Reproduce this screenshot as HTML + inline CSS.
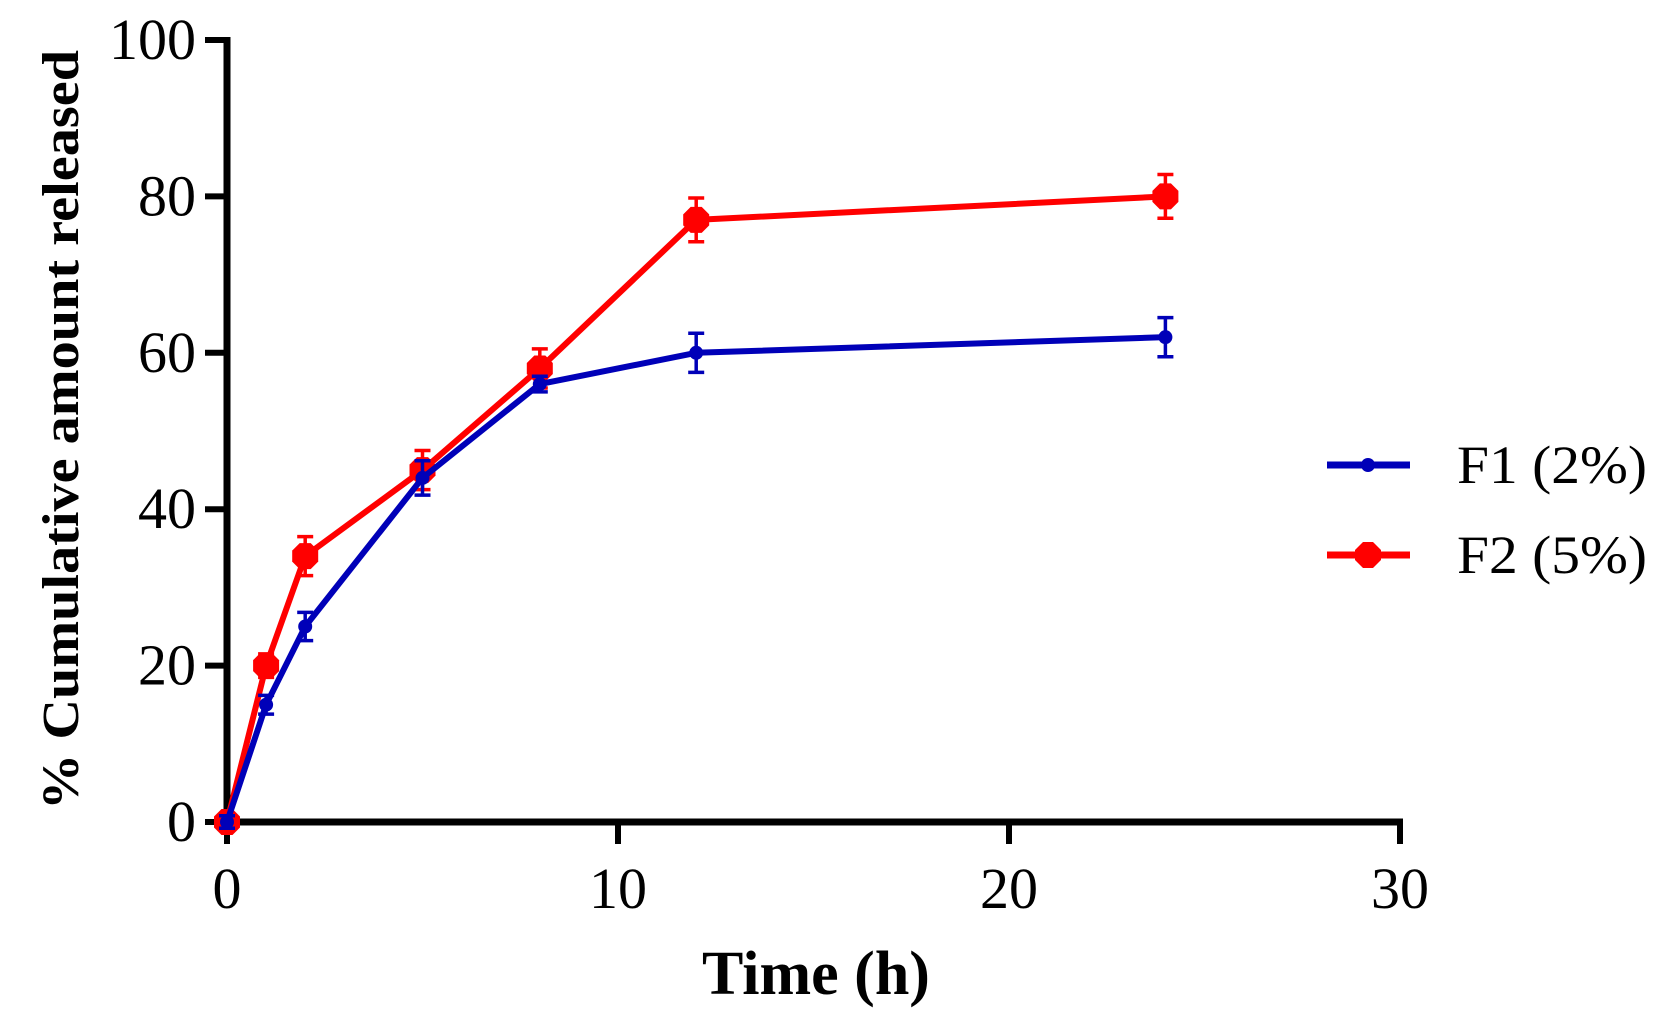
<!DOCTYPE html>
<html><head><meta charset="utf-8"><style>
html,body{margin:0;padding:0;background:#fff;}
svg{display:block;font-family:"Liberation Serif",serif;}
</style></head><body>
<svg id="chart" width="1663" height="1022" viewBox="0 0 1663 1022" xmlns="http://www.w3.org/2000/svg">
<g id="axes"></g>
<g id="series"></g>
<text x="816" y="994" font-size="62" font-weight="bold" text-anchor="middle">Time (h)</text>
<text transform="translate(78,430) rotate(-90)" font-size="52" font-weight="bold" text-anchor="middle" textLength="760" lengthAdjust="spacingAndGlyphs">% Cumulative amount released</text>
<g>
<line x1="1327" y1="465" x2="1410" y2="465" stroke="#0000b8" stroke-width="7"/>
<circle cx="1368" cy="465" r="7" fill="#0000b8"/>
<text x="1457" y="483" font-size="54" textLength="190" lengthAdjust="spacingAndGlyphs">F1 (2%)</text>
<line x1="1327" y1="555" x2="1410" y2="555" stroke="#ff0000" stroke-width="7"/>
<polygon points="1363,542 1373,542 1381,550 1381,560 1373,568 1363,568 1355,560 1355,550" fill="#ff0000"/>
<text x="1457" y="573" font-size="54" textLength="190" lengthAdjust="spacingAndGlyphs">F2 (5%)</text>
</g>
</svg>
<script>
const times = [0, 1, 2, 5, 8, 12, 24];
const f1Values = [0, 15, 25, 44, 56, 60, 62];
const f1Errors = [0.8, 1.2, 1.8, 2.2, 1.0, 2.5, 2.5];
const f2Values = [0, 20, 34, 45, 58, 77, 80];
const f2Errors = [1.0, 1.5, 2.5, 2.5, 2.5, 2.8, 2.8];
const xTicks = [0, 10, 20, 30];
const yTicks = [0, 20, 40, 60, 80, 100];

const X0 = 227, X1 = 1400, Y0 = 822, Y1 = 40;
const xs = v => X0 + (v / 30) * (X1 - X0);
const ys = v => Y0 - (v / 100) * (Y0 - Y1);
const NS = 'http://www.w3.org/2000/svg';
function mk(tag, attrs, parent) {
  const e = document.createElementNS(NS, tag);
  for (const k in attrs) e.setAttribute(k, attrs[k]);
  parent.appendChild(e);
  return e;
}
const axes = document.getElementById('axes');
const yAxis = mk('line', {x1: X0, y1: Y1 - 3, x2: X0, y2: Y0 + 3, stroke: '#000', 'stroke-width': 7}, axes);


const xAxis = mk('line', {x1: X0 - 3, y1: Y0, x2: X1 + 3, y2: Y0, stroke: '#000', 'stroke-width': 7}, axes);


yTicks.forEach(t => {
  const tk = mk('line', {x1: X0 - 22, y1: ys(t), x2: X0, y2: ys(t), stroke: '#000', 'stroke-width': 6}, axes);
  
  
  const lb = mk('text', {x: 196, y: ys(t) + 19, 'font-size': 58, 'text-anchor': 'end'}, axes);
  
  
  lb.textContent = t;
});
xTicks.forEach(t => {
  const tk = mk('line', {x1: xs(t), y1: Y0, x2: xs(t), y2: Y0 + 22, stroke: '#000', 'stroke-width': 6}, axes);
  
  
  const lb = mk('text', {x: xs(t), y: 908, 'font-size': 58, 'text-anchor': 'middle'}, axes);
  
  
  lb.textContent = t;
});
const series = document.getElementById('series');
function drawSeries(vals, errs, color, name, big) {
  const g = mk('g', {}, series);
  
  
  const pts = times.map((t, i) => xs(t) + ',' + ys(vals[i])).join(' ');
  const pl = mk('polyline', {points: pts, fill: 'none', stroke: color, 'stroke-width': 6, 'stroke-linejoin': 'round'}, g);
  
  
  times.forEach((t, i) => {
    const x = xs(t), yt = ys(vals[i] + errs[i]), yb = ys(vals[i] - errs[i]);
    const eb = mk('path', {d: `M${x},${yt}V${yb}M${x-8},${yt}H${x+8}M${x-8},${yb}H${x+8}`, stroke: color, 'stroke-width': 3.5, fill: 'none'}, g);
    
    
    const y = ys(vals[i]);
    let m;
    if (big) {
      const a = 5.5, b = 13;
      m = mk('polygon', {points: `${x-a},${y-b} ${x+a},${y-b} ${x+b},${y-a} ${x+b},${y+a} ${x+a},${y+b} ${x-a},${y+b} ${x-b},${y+a} ${x-b},${y-a}`, fill: color}, g);
    } else {
      m = mk('circle', {cx: x, cy: y, r: 7, fill: color}, g);
    }
    
    
  });
}
drawSeries(f2Values, f2Errors, '#ff0000', 'f2-series', true);
drawSeries(f1Values, f1Errors, '#0000b8', 'f1-series', false);
</script>
</body></html>
